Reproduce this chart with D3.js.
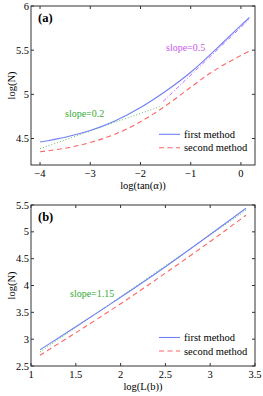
<!DOCTYPE html>
<html>
<head>
<meta charset="utf-8">
<script src="https://cdn.jsdelivr.net/npm/d3@7"></script>
<style>
  body { margin: 0; background: #fff; }
</style>
</head>
<body>
<div id="chart"></div>
<script>
// Panel (a): log(N) vs log(tan(alpha))
const xA = [-4, -3.5, -3, -2.5, -2, -1.5, -1, -0.5, 0, 0.17];
const firstA = [4.46, 4.515, 4.59, 4.70, 4.85, 5.035, 5.25, 5.51, 5.78, 5.87];
const secondA = [4.35, 4.39, 4.455, 4.55, 4.69, 4.87, 5.08, 5.28, 5.44, 5.49];
const fitLowA = [[-4, 4.384], [-1.62, 4.86]];   // slope=0.2
const fitHighA = [[-1.55, 4.92], [0.15, 5.84]]; // slope=0.5
const xTicksA = [-4, -3, -2, -1, 0];
const yTicksA = [4.5, 5, 5.5, 6];

// Panel (b): log(N) vs log(L(b))
const xB = [1.1, 1.5, 2, 2.5, 3, 3.4];
const firstB = [2.80, 3.23, 3.78, 4.35, 4.95, 5.44];
const secondB = [2.70, 3.12, 3.66, 4.23, 4.82, 5.31];
const fitB = [[1.1, 2.76], [3.4, 5.40]]; // slope=1.15
const xTicksB = [1, 1.5, 2, 2.5, 3, 3.5];
const yTicksB = [2.5, 3, 3.5, 4, 4.5, 5, 5.5];

const width = 263, height = 396;
const svg = d3.select("#chart").append("svg")
    .attr("width", width)
    .attr("height", height)
    .attr("font-family", "'Liberation Serif', 'Times New Roman', 'DejaVu Serif', serif");

const blue = "#6f80f5", red = "#ff6464", green = "#5cc05c", magenta = "#cc66ff";

function panel(opts) {
    const x = d3.scaleLinear().domain(opts.xDomain).range([31, 255]);
    const y = d3.scaleLinear().domain(opts.yDomain).range([opts.bottom, opts.top]);
    const g = svg.append("g");
    const fmt = d3.format("");

    const line = d3.line().x(d => x(d[0])).y(d => y(d[1])).curve(d3.curveNatural);

    // fit lines first (under the curves)
    opts.fits.forEach(f => {
        g.append("path")
            .attr("d", d3.line().x(d => x(d[0])).y(d => y(d[1]))(f.pts))
            .attr("fill", "none")
            .attr("stroke", f.color)
            .attr("stroke-width", 1)
            .attr("stroke-dasharray", f.dash);
    });

    g.append("path")
        .attr("d", line(opts.xs.map((v, i) => [v, opts.first[i]])))
        .attr("fill", "none").attr("stroke", blue).attr("stroke-width", 1.1);
    g.append("path")
        .attr("d", line(opts.xs.map((v, i) => [v, opts.second[i]])))
        .attr("fill", "none").attr("stroke", red).attr("stroke-width", 1.1)
        .attr("stroke-dasharray", "5,3.5");

    // box with inward ticks on all sides (MATLAB style)
    const axColor = "#333";
    g.append("rect")
        .attr("x", 31).attr("y", opts.top)
        .attr("width", 224).attr("height", opts.bottom - opts.top)
        .attr("fill", "none").attr("stroke", axColor).attr("stroke-width", 1);

    opts.xTicks.forEach(t => {
        g.append("line").attr("x1", x(t)).attr("x2", x(t))
            .attr("y1", opts.bottom).attr("y2", opts.bottom - 3).attr("stroke", axColor);
        g.append("line").attr("x1", x(t)).attr("x2", x(t))
            .attr("y1", opts.top).attr("y2", opts.top + 3).attr("stroke", axColor);
        g.append("text").attr("x", x(t)).attr("y", opts.bottom + 12)
            .attr("text-anchor", "middle").attr("font-size", 10.5)
            .text(fmt(t));
    });
    opts.yTicks.forEach(t => {
        g.append("line").attr("x1", 31).attr("x2", 34)
            .attr("y1", y(t)).attr("y2", y(t)).attr("stroke", axColor);
        g.append("line").attr("x1", 255).attr("x2", 252)
            .attr("y1", y(t)).attr("y2", y(t)).attr("stroke", axColor);
        g.append("text").attr("x", 29).attr("y", y(t) + 3.5)
            .attr("text-anchor", "end").attr("font-size", 10.5)
            .text(fmt(t));
    });

    // axis labels
    g.append("text").attr("x", 143).attr("y", opts.bottom + 24)
        .attr("text-anchor", "middle").attr("font-size", 10.5)
        .text(opts.xLabel);
    g.append("text")
        .attr("transform", `translate(15,${(opts.top + opts.bottom) / 2}) rotate(-90)`)
        .attr("text-anchor", "middle").attr("font-size", 10.5)
        .text("log(N)");

    // panel tag
    g.append("text").attr("x", 38).attr("y", opts.top + 16)
        .attr("font-size", 12.5).attr("font-weight", "bold")
        .text(opts.tag);

    // slope annotations
    opts.notes.forEach(n => {
        g.append("text").attr("x", n.x).attr("y", n.y)
            .attr("font-size", 10).attr("fill", n.color).text(n.text);
    });

    // legend
    const lg = [
        { name: "first method", color: blue, dash: null, y: opts.legendY },
        { name: "second method", color: red, dash: "5,3.5", y: opts.legendY + 13.5 }
    ];
    lg.forEach(l => {
        g.append("line").attr("x1", 159).attr("x2", 180)
            .attr("y1", l.y).attr("y2", l.y)
            .attr("stroke", l.color).attr("stroke-width", 1.1)
            .attr("stroke-dasharray", l.dash);
        g.append("text").attr("x", 184).attr("y", l.y + 3.5)
            .attr("font-size", 10.5).text(l.name);
    });
}

panel({
    top: 6, bottom: 165,
    xDomain: [-4.18, 0.28], yDomain: [4.2, 6],
    xs: xA, first: firstA, second: secondA,
    xTicks: xTicksA, yTicks: yTicksA,
    xLabel: "log(tan(\u03b1))", tag: "(a)",
    fits: [
        { pts: fitLowA, color: green, dash: "1,2" },
        { pts: fitHighA, color: magenta, dash: "4,2,1,2" }
    ],
    notes: [
        { x: 65, y: 117, text: "slope=0.2", color: "#33aa33" },
        { x: 166, y: 51, text: "slope=0.5", color: "#cc55ee" }
    ],
    legendY: 134.3
});

panel({
    top: 205, bottom: 366,
    xDomain: [1, 3.5], yDomain: [2.5, 5.5],
    xs: xB, first: firstB, second: secondB,
    xTicks: xTicksB, yTicks: yTicksB,
    xLabel: "log(L(b))", tag: "(b)",
    fits: [
        { pts: fitB, color: green, dash: "1,2" }
    ],
    notes: [
        { x: 70, y: 297, text: "slope=1.15", color: "#33aa33" }
    ],
    legendY: 337.5
});
</script>
</body>
</html>
